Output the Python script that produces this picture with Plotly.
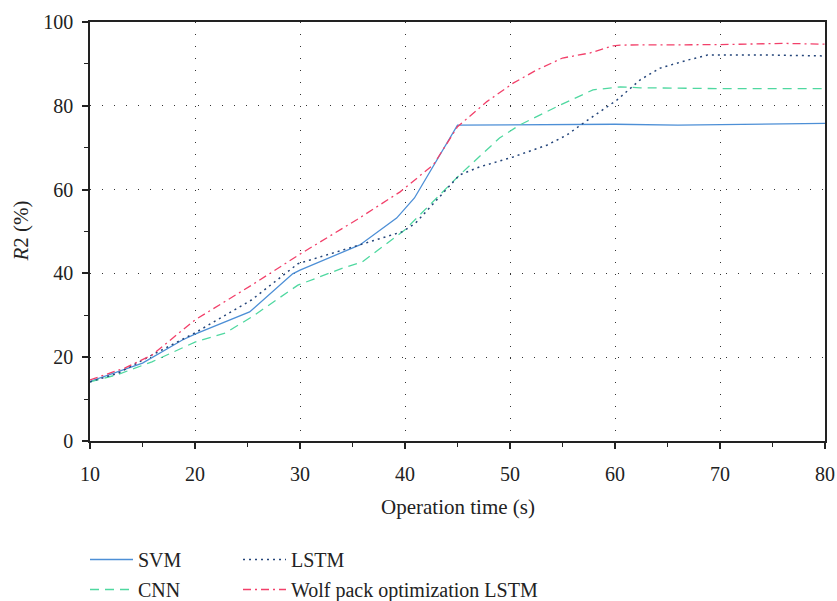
import plotly.graph_objects as go

# Operation time (s) and R2 (%) per model
svm_x = [10, 15.0, 18.8, 20, 25.2, 29.3, 30, 35.7, 39.2, 40.9, 45.0, 50, 60, 66, 70, 80]
svm_y = [14.2, 18.6, 24.1, 25.5, 30.8, 39.9, 40.8, 46.8, 53.2, 58.0, 75.4, 75.5, 75.6, 75.4, 75.5, 75.8]

cnn_x = [10, 12.7, 15.9, 20, 22.9, 25.4, 29.8, 34.1, 35.9, 40, 45.2, 47.1, 49, 50.9, 54.8, 57.9, 60.5, 62.4, 70, 80]
cnn_y = [14.1, 15.9, 18.9, 23.6, 25.8, 29.6, 37.2, 41.3, 42.7, 50.4, 63.5, 67.8, 72.3, 75.4, 80.2, 83.8, 84.5, 84.3, 84.1, 84.1]

lstm_x = [10, 12.7, 15.9, 20, 25.4, 29.8, 36.2, 39.8, 41, 45.2, 47.1, 50.3, 53.5, 55.4, 57, 60.2, 62.4, 64.3, 66.9, 68.8, 75, 80]
lstm_y = [14.1, 16.2, 20.5, 25.8, 33.7, 42.3, 47.2, 50.0, 52.0, 63.5, 65.4, 67.8, 70.6, 73.0, 75.9, 81.4, 86.2, 89.0, 90.9, 92.1, 92.1, 91.9]

wpo_x = [10, 13.3, 15.9, 20, 25.4, 30, 35.4, 39.5, 42.7, 45, 47.8, 50.3, 52.5, 55, 57.6, 59.8, 60.5, 70, 76, 80]
wpo_y = [14.6, 17.4, 20.5, 28.9, 37.2, 44.6, 52.8, 59.4, 65.9, 75.0, 81.0, 85.4, 88.5, 91.4, 92.6, 94.3, 94.5, 94.6, 94.9, 94.7]

x_ticks = [10, 20, 30, 40, 50, 60, 70, 80]
y_ticks = [0, 20, 40, 60, 80, 100]

FONT = "Liberation Serif"
FS = 20
INK = "#222"

fig = go.Figure()

fig.add_trace(go.Scatter(x=svm_x, y=svm_y, mode="lines", name="SVM", legendgroup="svm",
                         line=dict(color="#4d8fd6", width=1.3, dash="solid"),
                         legend="legend"))
fig.add_trace(go.Scatter(x=cnn_x, y=cnn_y, mode="lines", name="CNN", legendgroup="cnn",
                         line=dict(color="#4fd8a0", width=1.3, dash="9px,6px"),
                         legend="legend"))
fig.add_trace(go.Scatter(x=lstm_x, y=lstm_y, mode="lines", name="LSTM", legendgroup="lstm",
                         line=dict(color="#24457a", width=1.5, dash="2px,4px"),
                         legend="legend2"))
fig.add_trace(go.Scatter(x=wpo_x, y=wpo_y, mode="lines", name="Wolf pack optimization LSTM",
                         legendgroup="wpo",
                         line=dict(color="#f2406a", width=1.3, dash="8px,4px,2px,4px"),
                         legend="legend2"))

axis_common = dict(
    showline=True, linecolor=INK, linewidth=1.5, mirror=True,
    ticks="outside", ticklen=6, tickwidth=1.5, tickcolor=INK,
    tickfont=dict(family=FONT, size=FS, color=INK),
    showgrid=True, gridcolor="#333", gridwidth=1, griddash="1px,11px",
    zeroline=False,
)

fig.update_xaxes(
    range=[10, 80], tickvals=x_ticks, ticklabelstandoff=8,
    minor=dict(ticks="outside", ticklen=4, tickwidth=1.2, tickcolor=INK, dtick=5, tick0=10, showgrid=False),
    **axis_common,
)
fig.update_yaxes(
    range=[0, 100], tickvals=y_ticks, ticklabelstandoff=5,
    minor=dict(ticks="outside", ticklen=4, tickwidth=1.2, tickcolor=INK, dtick=10, tick0=0, showgrid=False),
    **axis_common,
)

# Axis titles placed as annotations relative to the plotting area
fig.add_annotation(text="Operation time (s)", xref="paper", yref="paper",
                   x=0.5, y=-(507 - 441) / 419, xanchor="center", yanchor="middle",
                   showarrow=False, font=dict(family=FONT, size=FS + 1, color=INK))
fig.add_annotation(text="<i>R</i>2 (%)", xref="paper", yref="paper",
                   x=(20 - 90) / 735, y=0.5, xanchor="center", yanchor="middle",
                   textangle=-90, showarrow=False, font=dict(family=FONT, size=FS + 1, color=INK))

legend_common = dict(
    orientation="v", xanchor="left", yanchor="top", yref="container", xref="container",
    font=dict(family=FONT, size=FS, color=INK), bgcolor="rgba(0,0,0,0)",
    itemwidth=43, tracegroupgap=1, traceorder="grouped",
)

fig.update_layout(
    width=837, height=601,
    margin=dict(l=90, r=12, t=22, b=160, autoexpand=False),
    paper_bgcolor="white", plot_bgcolor="white",
    showlegend=True,
    legend=dict(x=85 / 837, y=1 - 540 / 601, **legend_common),
    legend2=dict(x=238 / 837, y=1 - 540 / 601, **legend_common),
)

fig.write_html("out.html")
